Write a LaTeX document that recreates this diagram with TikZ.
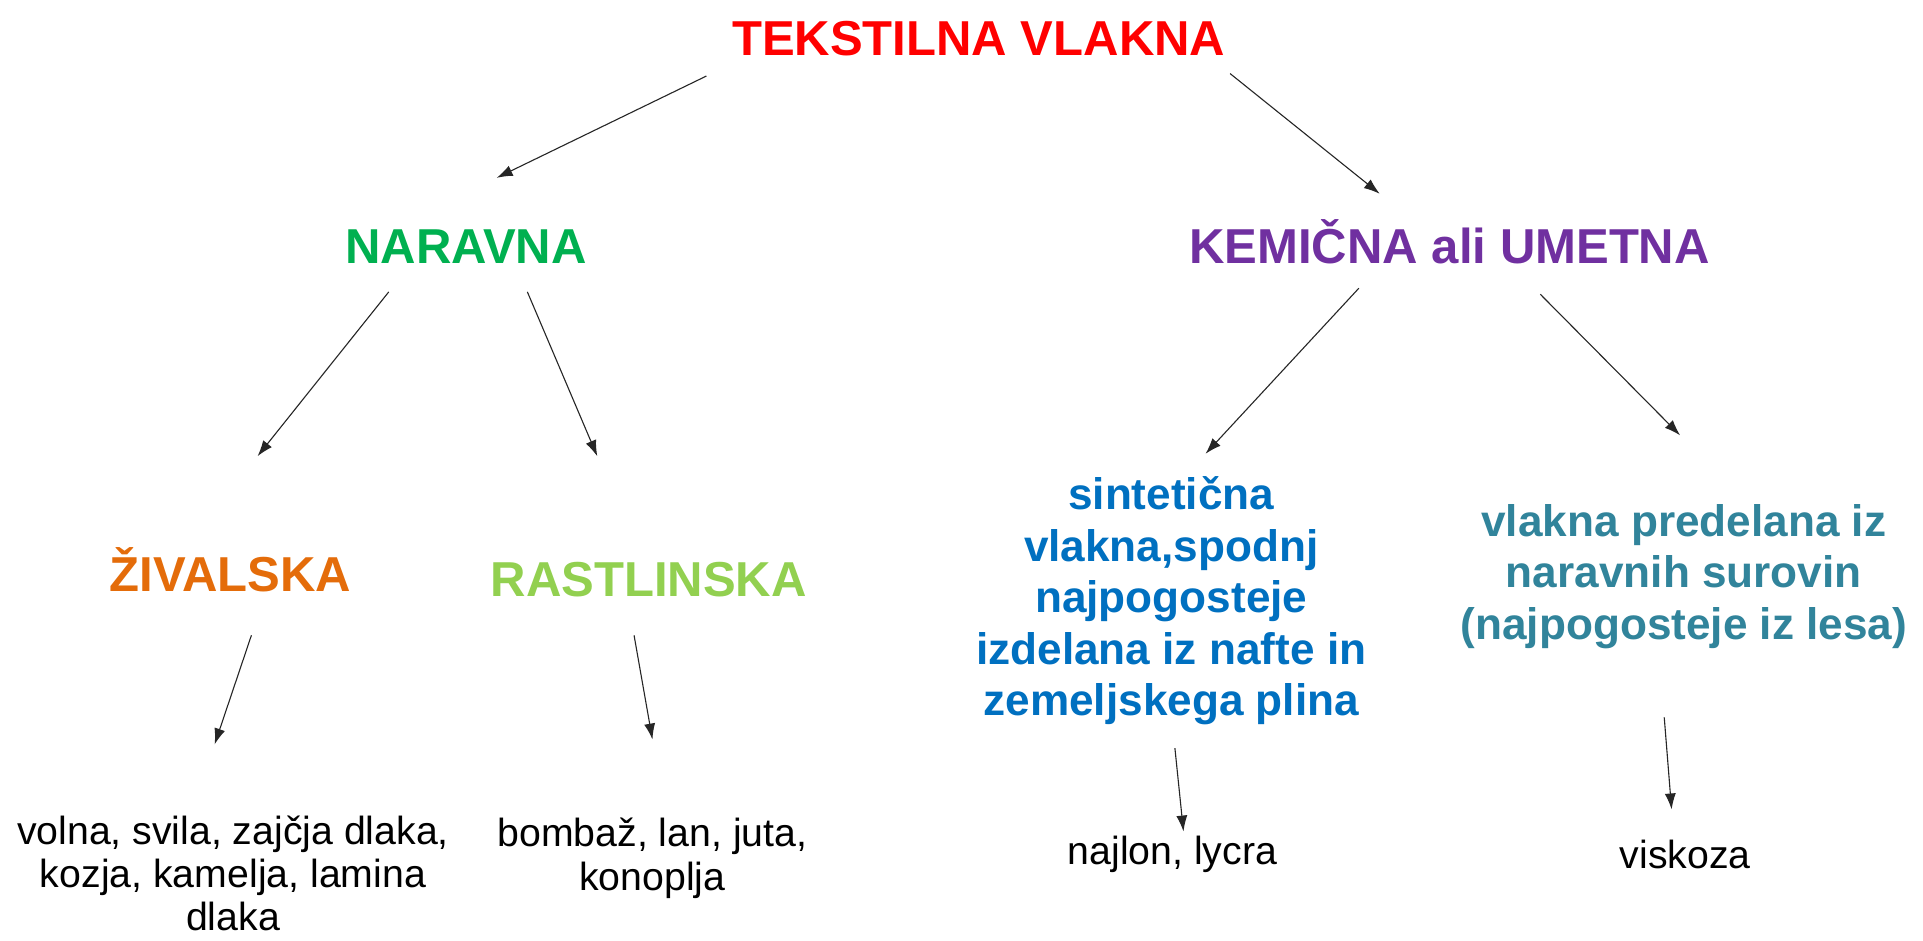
\documentclass[tikz,border=0pt]{standalone}
\usepackage{fontspec}
\setmainfont{Liberation Sans}
\usetikzlibrary{arrows.meta}
\definecolor{cRed}{HTML}{FF0000}
\definecolor{cGreen}{HTML}{00B050}
\definecolor{cPurple}{HTML}{7030A0}
\definecolor{cOrange}{HTML}{E46C0A}
\definecolor{cLight}{HTML}{92D050}
\definecolor{cBlue}{HTML}{0070C0}
\definecolor{cTeal}{HTML}{31849B}
\begin{document}
\begin{tikzpicture}[x=1pt,y=-1pt,
  head/.style={font=\fontsize{40}{46}\selectfont\bfseries, inner sep=0pt, anchor=base},
  sub/.style={font=\fontsize{36}{42}\selectfont\bfseries, align=center, inner sep=0pt},
  leaf/.style={font=\fontsize{32}{36}\selectfont, align=center, inner sep=0pt},
  conn/.style={draw=black!85, line width=0.9pt, -{Latex[length=13pt,width=9pt]}}]
\useasboundingbox[fill=white] (0,0) rectangle (1568,767);

\node[head, text=cRed] (t) at (798,45) {TEKSTILNA VLAKNA};
\node[head, text=cGreen] (nar) at (380,215) {NARAVNA};
\node[head, text=cPurple] (kem) at (1182,215) {KEMIČNA ali UMETNA};
\node[head, text=cOrange] (ziv) at (188,482) {ŽIVALSKA};
\node[head, text=cLight] (ras) at (529,486) {RASTLINSKA};
\node[sub, text=cBlue] (sin) at (955,490) {sintetična\\vlakna,spodnj\\najpogosteje\\izdelana iz nafte in\\zemeljskega plina};
\node[sub, text=cTeal] (pre) at (1373,470) {vlakna predelana iz\\naravnih surovin\\(najpogosteje iz lesa)};
\node[leaf, font=\fontsize{32}{35}\selectfont] (vol) at (190,712) {volna, svila, zajčja dlaka,\\kozja, kamelja, lamina\\dlaka};
\node[leaf] (bom) at (532,700) {bombaž, lan, juta,\\konoplja};
\node[leaf] (naj) at (956,697) {najlon, lycra};
\node[leaf] (vis) at (1374,697) {viskoza};

\coordinate (a1s) at (576,62);   \coordinate (a1e) at (405,145);
\coordinate (a2s) at (1003,60);  \coordinate (a2e) at (1125,158);
\coordinate (a3s) at (317,238);  \coordinate (a3e) at (210,372);
\coordinate (a4s) at (430,238);  \coordinate (a4e) at (487,372);
\coordinate (a5s) at (1108,235); \coordinate (a5e) at (983,370);
\coordinate (a6s) at (1256,240); \coordinate (a6e) at (1370,355);
\coordinate (a7s) at (205,518);  \coordinate (a7e) at (175,607);
\coordinate (a8s) at (517,518);  \coordinate (a8e) at (532,603);
\coordinate (a9s) at (958,610);  \coordinate (a9e) at (965,678);
\coordinate (a10s) at (1357,585); \coordinate (a10e) at (1363,660);

\draw[conn] (a1s) -- (a1e);
\draw[conn] (a2s) -- (a2e);
\draw[conn] (a3s) -- (a3e);
\draw[conn] (a4s) -- (a4e);
\draw[conn] (a5s) -- (a5e);
\draw[conn] (a6s) -- (a6e);
\draw[conn] (a7s) -- (a7e);
\draw[conn] (a8s) -- (a8e);
\draw[conn] (a9s) -- (a9e);
\draw[conn] (a10s) -- (a10e);
\end{tikzpicture}
\end{document}
